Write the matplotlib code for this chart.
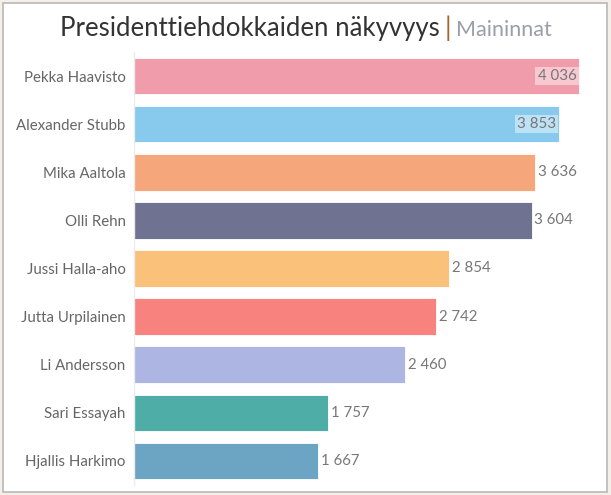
import matplotlib
matplotlib.use("Agg")
import matplotlib.pyplot as plt
from matplotlib.patches import Rectangle

names = ["Pekka Haavisto", "Alexander Stubb", "Mika Aaltola", "Olli Rehn",
         "Jussi Halla-aho", "Jutta Urpilainen", "Li Andersson", "Sari Essayah",
         "Hjallis Harkimo"]
values = [4036, 3853, 3636, 3604, 2854, 2742, 2460, 1757, 1667]
colors = ["#F09CAA", "#88CAEE", "#F6A67B", "#6F7391", "#F9C17A", "#F8827E",
          "#ADB5E2", "#4FADA7", "#6BA5C3"]
title_main = "Presidenttiehdokkaiden näkyvyys"
title_sep = "|"
title_sub = "Maininnat"

plt.rcParams['font.family'] = ['Lato', 'DejaVu Sans']

W, H = 611, 495
fig = plt.figure(figsize=(W / 100, H / 100), dpi=100)
fig.patch.set_facecolor("#F5EFEA")

# white panel with gray border
fig.patches.append(Rectangle((3 / W, 3 / H), 604 / W, 489 / H, transform=fig.transFigure,
                             facecolor="white", edgecolor="#B8B8B8", linewidth=1.2, zorder=0))

left_px, right_px = 134, 600
top_px, bot_px = 52, 485
ax = fig.add_axes([left_px / W, 1 - bot_px / H, (right_px - left_px) / W, (bot_px - top_px) / H])
ax.set_zorder(2)
ax.set_facecolor("none")
px_per_unit = 0.1103
ax.set_xlim(0, (right_px - left_px) / px_per_unit)
ax.set_ylim(len(names) - 0.5, -0.5)

ypos = list(range(len(names)))
ax.barh(ypos, values, height=0.76, color=colors, edgecolor="white", linewidth=0.6, zorder=2)

for s in ["top", "right", "bottom"]:
    ax.spines[s].set_visible(False)
ax.spines["left"].set_color("#EBEBEB")
ax.spines["left"].set_linewidth(1)
ax.set_xticks([])
ax.set_yticks(ypos)
ax.set_yticklabels(names, fontsize=10.8, color="#666666")
ax.tick_params(axis="y", length=0, pad=6)


def fmt(v):
    return f"{v:,}".replace(",", " ")


for i, v in enumerate(values):
    if i < 2:
        ax.text(v - 25, i, fmt(v), ha="right", va="center", fontsize=10.8, color="#777777",
                bbox=dict(boxstyle="square,pad=0.15", facecolor="white", edgecolor="none", alpha=0.45),
                zorder=3)
    else:
        ax.text(v + 25, i, fmt(v), ha="left", va="center", fontsize=10.8, color="#777777", zorder=3)

# title, laid out piecewise
fig.canvas.draw()
r = fig.canvas.get_renderer()
y_t = 1 - 36 / H
t1 = fig.text(0, y_t, title_main, fontsize=18.5, color="#333333", va="baseline", ha="left")
t2 = fig.text(0, y_t, title_sep, fontsize=19, color="#A7682E", va="baseline", ha="left")
t3 = fig.text(0, y_t, title_sub, fontsize=15.5, color="#9A9FA8", va="baseline", ha="left")
w1 = t1.get_window_extent(r).width
w2 = t2.get_window_extent(r).width
w3 = t3.get_window_extent(r).width
gap = 5
x0 = 60
t1.set_x(x0 / W)
t2.set_x((x0 + w1 + gap) / W)
t3.set_x((x0 + w1 + gap + w2 + gap) / W)

fig.savefig("out.png", dpi=100, facecolor=fig.get_facecolor())
